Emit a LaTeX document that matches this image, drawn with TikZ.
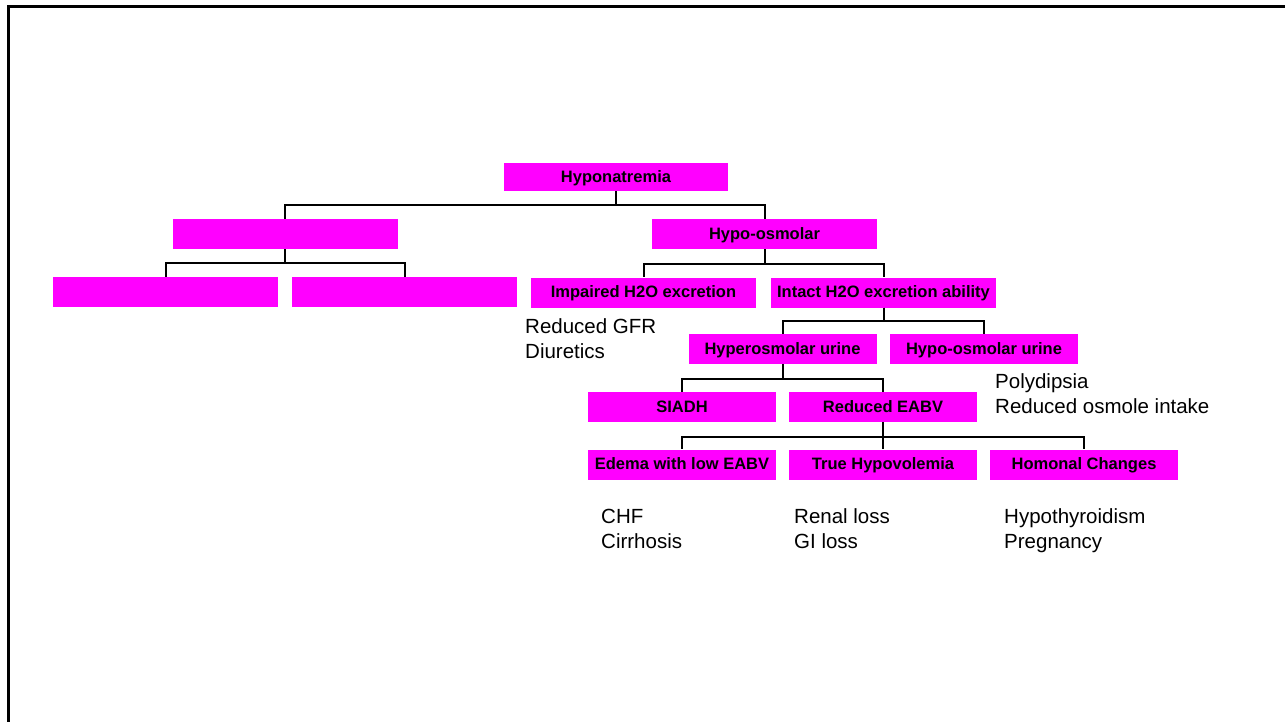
\documentclass[tikz,border=0pt]{standalone}
\usepackage{fontspec}
\setmainfont{Liberation Sans}
\usepackage{tikz}
\definecolor{boxpink}{RGB}{255,0,255}

\begin{document}
\begin{tikzpicture}[x=1pt,y=-1pt,
  box/.style={fill=boxpink, inner sep=0pt, minimum width=225pt, minimum height=30pt,
    text height=13pt, text depth=2.4pt, font=\bfseries\fontsize{16.5}{19}\selectfont},
  smallbox/.style={box, minimum width=188pt},
  note/.style={anchor=base west, inner sep=0pt, font=\fontsize{20.5}{24}\selectfont},
  link/.style={line width=2pt}]
\useasboundingbox (0,0) rectangle (1285,721);
\draw[line width=2.6pt] (8.7,725) -- (8.7,6.2) -- (1290,6.2);
\node[box, minimum width=224pt, minimum height=28pt] (root) at (616,177) {Hyponatremia};
\node[box] (other) at (285,234) {};
\node[box] (hypo) at (764.5,234) {Hypo-osmolar};
\node[box] (otherA) at (165.5,292) {};
\node[box] (otherB) at (404.5,292) {};
\node[box] (impaired) at (643.5,292.5) {Impaired H2O excretion};
\node[box] (intact) at (883.5,292.5) {Intact H2O excretion ability};
\node[smallbox] (hyperurine) at (782.5,349) {Hyperosmolar urine};
\node[smallbox] (hypourine) at (984,349) {Hypo-osmolar urine};
\node[smallbox] (siadh) at (682,407) {SIADH};
\node[smallbox] (eabv) at (883,407) {Reduced EABV};
\node[smallbox] (edema) at (682,464.5) {Edema with low EABV};
\node[smallbox] (truehypo) at (883,464.5) {True Hypovolemia};
\node[smallbox] (hormonal) at (1084,464.5) {Homonal Changes};
\node[note] (gfr) at (525,333) {Reduced GFR};
\node[note] (diuretics) at (525,358) {Diuretics};
\node[note] (polydipsia) at (995,388) {Polydipsia};
\node[note] (osmole) at (995,413) {Reduced osmole intake};
\node[note] (chf) at (601,523) {CHF};
\node[note] (cirrhosis) at (601,548) {Cirrhosis};
\node[note] (renal) at (794,523) {Renal loss};
\node[note] (giloss) at (794,548) {GI loss};
\node[note] (thyroid) at (1004,523) {Hypothyroidism};
\node[note] (pregnancy) at (1004,548) {Pregnancy};
\draw[link] (root.south) -- ++(0,14) -| (other.north);
\draw[link] (root.south) -- ++(0,14) -| (hypo.north);
\draw[link] (other.south) -- ++(0,14) -| (otherA.north);
\draw[link] (other.south) -- ++(0,14) -| (otherB.north);
\draw[link] (hypo.south) -- ++(0,14.5) -| (impaired.north);
\draw[link] (hypo.south) -- ++(0,14.5) -| (intact.north);
\draw[link] (intact.south) -- ++(0,13.5) -| (hyperurine.north);
\draw[link] (intact.south) -- ++(0,13.5) -| (hypourine.north);
\draw[link] (hyperurine.south) -- ++(0,14.5) -| (siadh.north);
\draw[link] (hyperurine.south) -- ++(0,14.5) -| (eabv.north);
\draw[link] (eabv.south) -- ++(0,14.5) -| (edema.north);
\draw[link] (eabv.south) -- (truehypo.north);
\draw[link] (eabv.south) -- ++(0,14.5) -| (hormonal.north);
\end{tikzpicture}
\end{document}
